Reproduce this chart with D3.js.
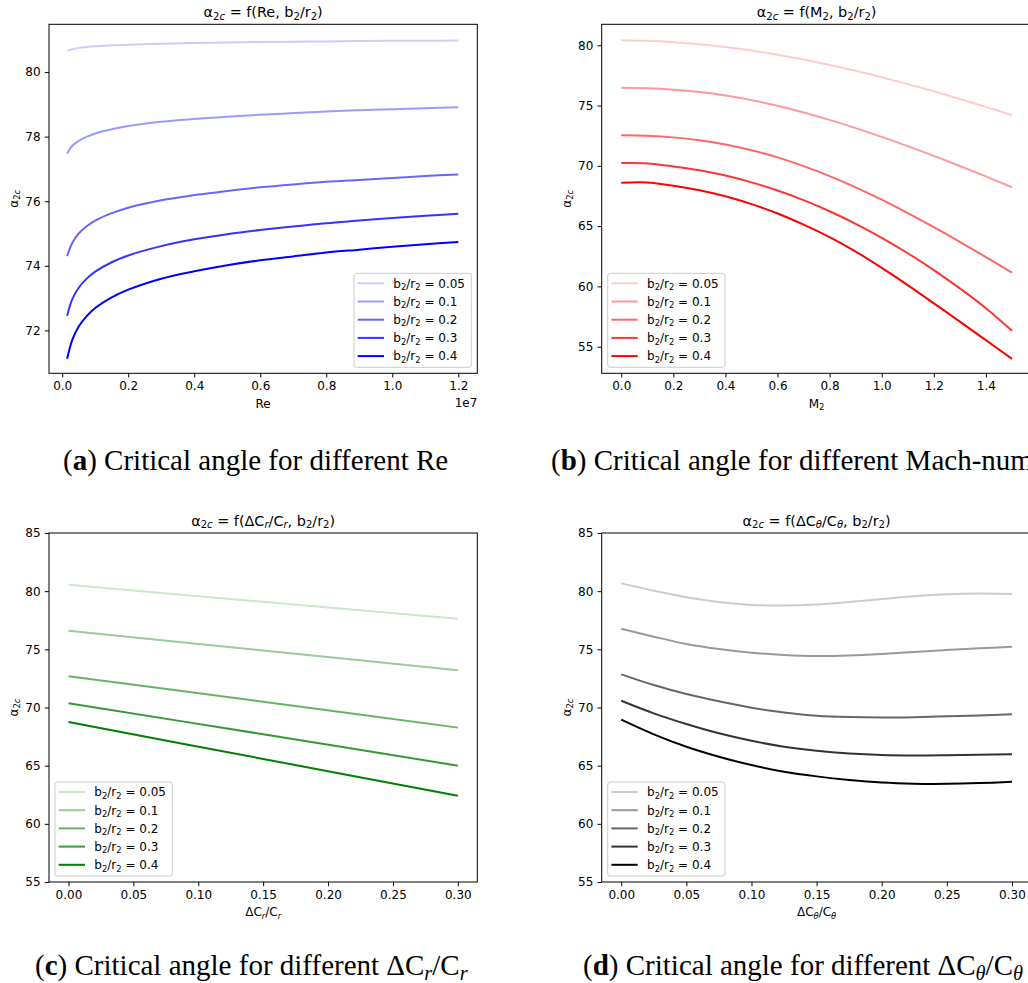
<!DOCTYPE html>
<html>
<head>
<meta charset="utf-8">
<script src="https://cdn.jsdelivr.net/npm/d3@7"></script>
<style>
  body { margin: 0; background: #fff; }
</style>
</head>
<body>
<div id="fig"></div>
<script>
// ---------- values ----------
var ratioLabels = ["0.05", "0.1", "0.2", "0.3", "0.4"];
var ratioAlpha = [0.2, 0.4, 0.6, 0.8, 1.0];

// (a) critical angle vs Re
var reValues = [0.15e6, 0.3e6, 0.5e6, 0.75e6, 1e6, 1.5e6, 2e6, 3e6, 4e6, 5e6, 6e6, 7e6, 8e6, 9e6, 10e6, 11e6, 12e6];
var alphaVsRe = [
  [80.66, 80.71, 80.75, 80.78, 80.80, 80.83, 80.85, 80.88, 80.90, 80.92, 80.93, 80.94, 80.95, 80.96, 80.97, 80.97, 80.98],
  [77.48, 77.71, 77.87, 78.00, 78.10, 78.23, 78.33, 78.46, 78.55, 78.62, 78.68, 78.73, 78.78, 78.82, 78.85, 78.88, 78.91],
  [74.30, 74.70, 75.00, 75.23, 75.40, 75.63, 75.80, 76.03, 76.19, 76.32, 76.43, 76.52, 76.60, 76.66, 76.72, 76.78, 76.83],
  [72.45, 72.95, 73.32, 73.61, 73.82, 74.11, 74.32, 74.61, 74.82, 74.98, 75.11, 75.22, 75.32, 75.40, 75.48, 75.55, 75.61],
  [71.12, 71.69, 72.12, 72.45, 72.69, 73.02, 73.26, 73.60, 73.83, 74.02, 74.17, 74.29, 74.41, 74.50, 74.59, 74.67, 74.74]
];
var reTicks = [0, 0.2e7, 0.4e7, 0.6e7, 0.8e7, 1.0e7, 1.2e7];
var reYTicks = [72, 74, 76, 78, 80];

// (b) critical angle vs M2
var machValues = [0, 0.1, 0.2, 0.3, 0.4, 0.5, 0.6, 0.7, 0.8, 0.9, 1.0, 1.1, 1.2, 1.3, 1.4, 1.5];
var alphaVsMach = [
  [80.42, 80.37, 80.26, 80.09, 79.86, 79.57, 79.22, 78.82, 78.37, 77.88, 77.35, 76.78, 76.18, 75.55, 74.89, 74.20],
  [76.48, 76.44, 76.32, 76.12, 75.83, 75.45, 74.98, 74.43, 73.81, 73.13, 72.40, 71.63, 70.83, 69.99, 69.12, 68.22],
  [72.53, 72.49, 72.36, 72.12, 71.77, 71.30, 70.70, 69.98, 69.15, 68.22, 67.19, 66.08, 64.91, 63.69, 62.43, 61.14],
  [70.23, 70.20, 69.95, 69.63, 69.19, 68.63, 67.95, 67.15, 66.23, 65.19, 64.03, 62.75, 61.35, 59.83, 58.19, 56.31],
  [68.60, 68.62, 68.35, 67.97, 67.47, 66.82, 66.05, 65.13, 64.09, 62.89, 61.54, 60.11, 58.59, 57.08, 55.54, 53.99]
];
var machTicks = [0, 0.2, 0.4, 0.6, 0.8, 1.0, 1.2, 1.4];
var machYTicks = [55, 60, 65, 70, 75, 80];

// (c) critical angle vs dCr/Cr
var dcrValues = [0, 0.15, 0.3];
var alphaVsDcr = [
  [80.56, 79.08, 77.63],
  [76.60, 74.90, 73.20],
  [72.68, 70.50, 68.27],
  [70.36, 67.70, 65.00],
  [68.75, 65.58, 62.41]
];

// (d) critical angle vs dCtheta/Ctheta
var dctValues = [0, 0.025, 0.05, 0.075, 0.1, 0.125, 0.15, 0.175, 0.2, 0.225, 0.25, 0.275, 0.3];
var alphaVsDct = [
  [80.67, 80.04, 79.47, 79.07, 78.82, 78.77, 78.86, 79.07, 79.32, 79.56, 79.73, 79.80, 79.75],
  [76.77, 76.09, 75.46, 75.03, 74.71, 74.51, 74.42, 74.47, 74.60, 74.77, 74.94, 75.09, 75.22],
  [72.85, 71.93, 71.16, 70.53, 69.98, 69.58, 69.30, 69.18, 69.14, 69.17, 69.24, 69.32, 69.42],
  [70.58, 69.50, 68.58, 67.78, 67.14, 66.63, 66.28, 66.05, 65.92, 65.88, 65.90, 65.94, 65.99],
  [68.95, 67.69, 66.63, 65.77, 65.05, 64.48, 64.08, 63.77, 63.55, 63.45, 63.44, 63.50, 63.61]
];
var dTicks = [0, 0.05, 0.10, 0.15, 0.20, 0.25, 0.30];
var dYTicks = [55, 60, 65, 70, 75, 80, 85];

// ---------- drawing ----------
var W = 1028, H = 983;
var FONT = "DejaVu Sans";
var svg = d3.select("#fig").append("svg").attr("width", W).attr("height", H);

// write text made of parts: [string, flags] flags: s = subscript, i = italic, b = bold
function rich(sel, parts, size, subDrop) {
  var shift = 0;
  parts.forEach(function (p) {
    var t = sel.append("tspan").text(p[0]);
    var isSub = p[1].indexOf("s") >= 0;
    var target = isSub ? size * subDrop : 0;
    if (target !== shift) { t.attr("dy", target - shift); shift = target; }
    if (isSub) t.attr("font-size", size * 0.7);
    if (p[1].indexOf("i") >= 0) t.attr("font-style", "italic");
    if (p[1].indexOf("b") >= 0) t.attr("font-weight", "bold");
  });
}

function styleAxis(g) {
  g.attr("font-family", FONT).attr("font-size", 12);
  g.select(".domain").remove();
  g.selectAll(".tick line").attr("stroke", "#000").attr("stroke-width", 1);
  g.selectAll(".tick text").attr("fill", "#000");
}

function legendLabel(i) {
  return [["b", ""], ["2", "s"], ["/r", ""], ["2", "s"], [" = " + ratioLabels[i], ""]];
}

function drawPanel(p) {
  var g = svg.append("g");
  var x = d3.scaleLinear().domain(p.xDom).range([p.left, p.right]);
  var y = d3.scaleLinear().domain(p.yDom).range([p.bottom, p.top]);

  var line = d3.line()
    .x(function (d) { return x(d[0]); })
    .y(function (d) { return y(d[1]); })
    .curve(d3.curveCatmullRom.alpha(0.5));

  p.ys.forEach(function (vals, i) {
    g.append("path")
      .datum(p.xs.map(function (v, j) { return [v, vals[j]]; }))
      .attr("fill", "none")
      .attr("stroke", p.color)
      .attr("stroke-opacity", ratioAlpha[i])
      .attr("stroke-width", 2)
      .attr("d", line);
  });

  g.append("g")
    .attr("transform", "translate(0," + p.bottom + ")")
    .call(d3.axisBottom(x).tickValues(p.xTicks).tickFormat(p.xFmt).tickSize(4.2).tickPadding(4.2))
    .call(styleAxis);
  g.append("g")
    .attr("transform", "translate(" + p.left + ",0)")
    .call(d3.axisLeft(y).tickValues(p.yTicks).tickFormat(d3.format("d")).tickSize(4.2).tickPadding(4.2))
    .call(styleAxis);

  g.append("rect")
    .attr("x", p.left).attr("y", p.top)
    .attr("width", p.right - p.left).attr("height", p.bottom - p.top)
    .attr("fill", "none").attr("stroke", "#000").attr("stroke-width", 1);

  var cx = (p.left + p.right) / 2;
  var title = g.append("text").attr("x", cx).attr("y", p.top - 7.4)
    .attr("text-anchor", "middle").attr("font-family", FONT).attr("font-size", 14.4);
  rich(title, p.title, 14.4, 0.2);

  var xl = g.append("text").attr("x", cx).attr("y", p.bottom + 34.4)
    .attr("text-anchor", "middle").attr("font-family", FONT).attr("font-size", 12);
  rich(xl, p.xlabel, 12, 0.2);

  var cy = (p.top + p.bottom) / 2;
  var yl = g.append("text")
    .attr("transform", "translate(" + (p.left - 31) + "," + cy + ") rotate(-90)")
    .attr("text-anchor", "middle").attr("font-family", FONT).attr("font-size", 12);
  rich(yl, [["α", ""], ["2", "s"], ["c", "si"]], 12, 0.2);

  if (p.offset) {
    g.append("text").attr("x", p.right).attr("y", p.bottom + 33.4)
      .attr("text-anchor", "end").attr("font-family", FONT).attr("font-size", 12)
      .text(p.offset);
  }

  // legend
  var lw = 117.3, lh = 94;
  var lx = p.legend === "right" ? p.right - 6 - lw : p.left + 6;
  var ly = p.bottom - 6 - lh;
  var lg = g.append("g");
  lg.append("rect").attr("x", lx).attr("y", ly).attr("width", lw).attr("height", lh)
    .attr("rx", 2.5).attr("fill", "#fff").attr("fill-opacity", 0.8)
    .attr("stroke", "#cccccc").attr("stroke-width", 1);
  ratioLabels.forEach(function (r, i) {
    var ry = ly + 10 + i * 18.2;
    lg.append("line").attr("x1", lx + 3.7).attr("x2", lx + 30).attr("y1", ry).attr("y2", ry)
      .attr("stroke", p.color).attr("stroke-opacity", ratioAlpha[i]).attr("stroke-width", 2);
    var t = lg.append("text").attr("x", lx + 39.3).attr("y", ry + 4.3)
      .attr("font-family", FONT).attr("font-size", 12);
    rich(t, legendLabel(i), 12, 0.2);
  });

  // caption below the panel
  var cap = svg.append("text").attr("x", p.capX).attr("y", p.capY)
    .attr("font-family", "Liberation Serif").attr("font-size", 29);
  rich(cap, p.caption, 29, 0.18);
}

var fmt1 = d3.format(".1f"), fmt2 = d3.format(".2f");

drawPanel({
  left: 49, right: 477.3, top: 24.3, bottom: 373.3,
  xDom: [-4.0e5, 1.2576e7], yDom: [70.67, 81.48],
  xs: reValues, ys: alphaVsRe, color: "blue",
  xTicks: reTicks, yTicks: reYTicks, xFmt: function (d) { return fmt1(d / 1e7); },
  title: [["α", ""], ["2", "s"], ["c", "si"], [" = f(Re, b", ""], ["2", "s"], ["/r", ""], ["2", "s"], [")", ""]],
  xlabel: [["Re", ""]], offset: "1e7", legend: "right",
  caption: [["(", ""], ["a", "b"], [") Critical angle for different Re", ""]], capX: 63, capY: 470
});

drawPanel({
  left: 601.7, right: 1031.5, top: 24.3, bottom: 373.3,
  xDom: [-0.075, 1.575], yDom: [52.79, 81.74],
  xs: machValues, ys: alphaVsMach, color: "red",
  xTicks: machTicks, yTicks: machYTicks, xFmt: fmt1,
  title: [["α", ""], ["2", "s"], ["c", "si"], [" = f(M", ""], ["2", "s"], [", b", ""], ["2", "s"], ["/r", ""], ["2", "s"], [")", ""]],
  xlabel: [["M", ""], ["2", "s"]], legend: "left",
  caption: [["(", ""], ["b", "b"], [") Critical angle for different Mach-number", ""]], capX: 551, capY: 470
});

drawPanel({
  left: 49, right: 477.3, top: 533, bottom: 882,
  xDom: [-0.015, 0.315], yDom: [55, 85],
  xs: dcrValues, ys: alphaVsDcr, color: "green",
  xTicks: dTicks, yTicks: dYTicks, xFmt: fmt2,
  title: [["α", ""], ["2", "s"], ["c", "si"], [" = f(ΔC", ""], ["r", "si"], ["/C", ""], ["r", "si"], [", b", ""], ["2", "s"], ["/r", ""], ["2", "s"], [")", ""]],
  xlabel: [["ΔC", ""], ["r", "si"], ["/C", ""], ["r", "si"]], legend: "left",
  caption: [["(", ""], ["c", "b"], [") Critical angle for different ΔC", ""], ["r", "si"], ["/C", ""], ["r", "si"]], capX: 35, capY: 975
});

drawPanel({
  left: 601.7, right: 1031.5, top: 533, bottom: 882,
  xDom: [-0.015, 0.315], yDom: [55, 85],
  xs: dctValues, ys: alphaVsDct, color: "black",
  xTicks: dTicks, yTicks: dYTicks, xFmt: fmt2,
  title: [["α", ""], ["2", "s"], ["c", "si"], [" = f(ΔC", ""], ["θ", "si"], ["/C", ""], ["θ", "si"], [", b", ""], ["2", "s"], ["/r", ""], ["2", "s"], [")", ""]],
  xlabel: [["ΔC", ""], ["θ", "si"], ["/C", ""], ["θ", "si"]], legend: "left",
  caption: [["(", ""], ["d", "b"], [") Critical angle for different ΔC", ""], ["θ", "si"], ["/C", ""], ["θ", "si"]], capX: 583, capY: 975
});
</script>
</body>
</html>
